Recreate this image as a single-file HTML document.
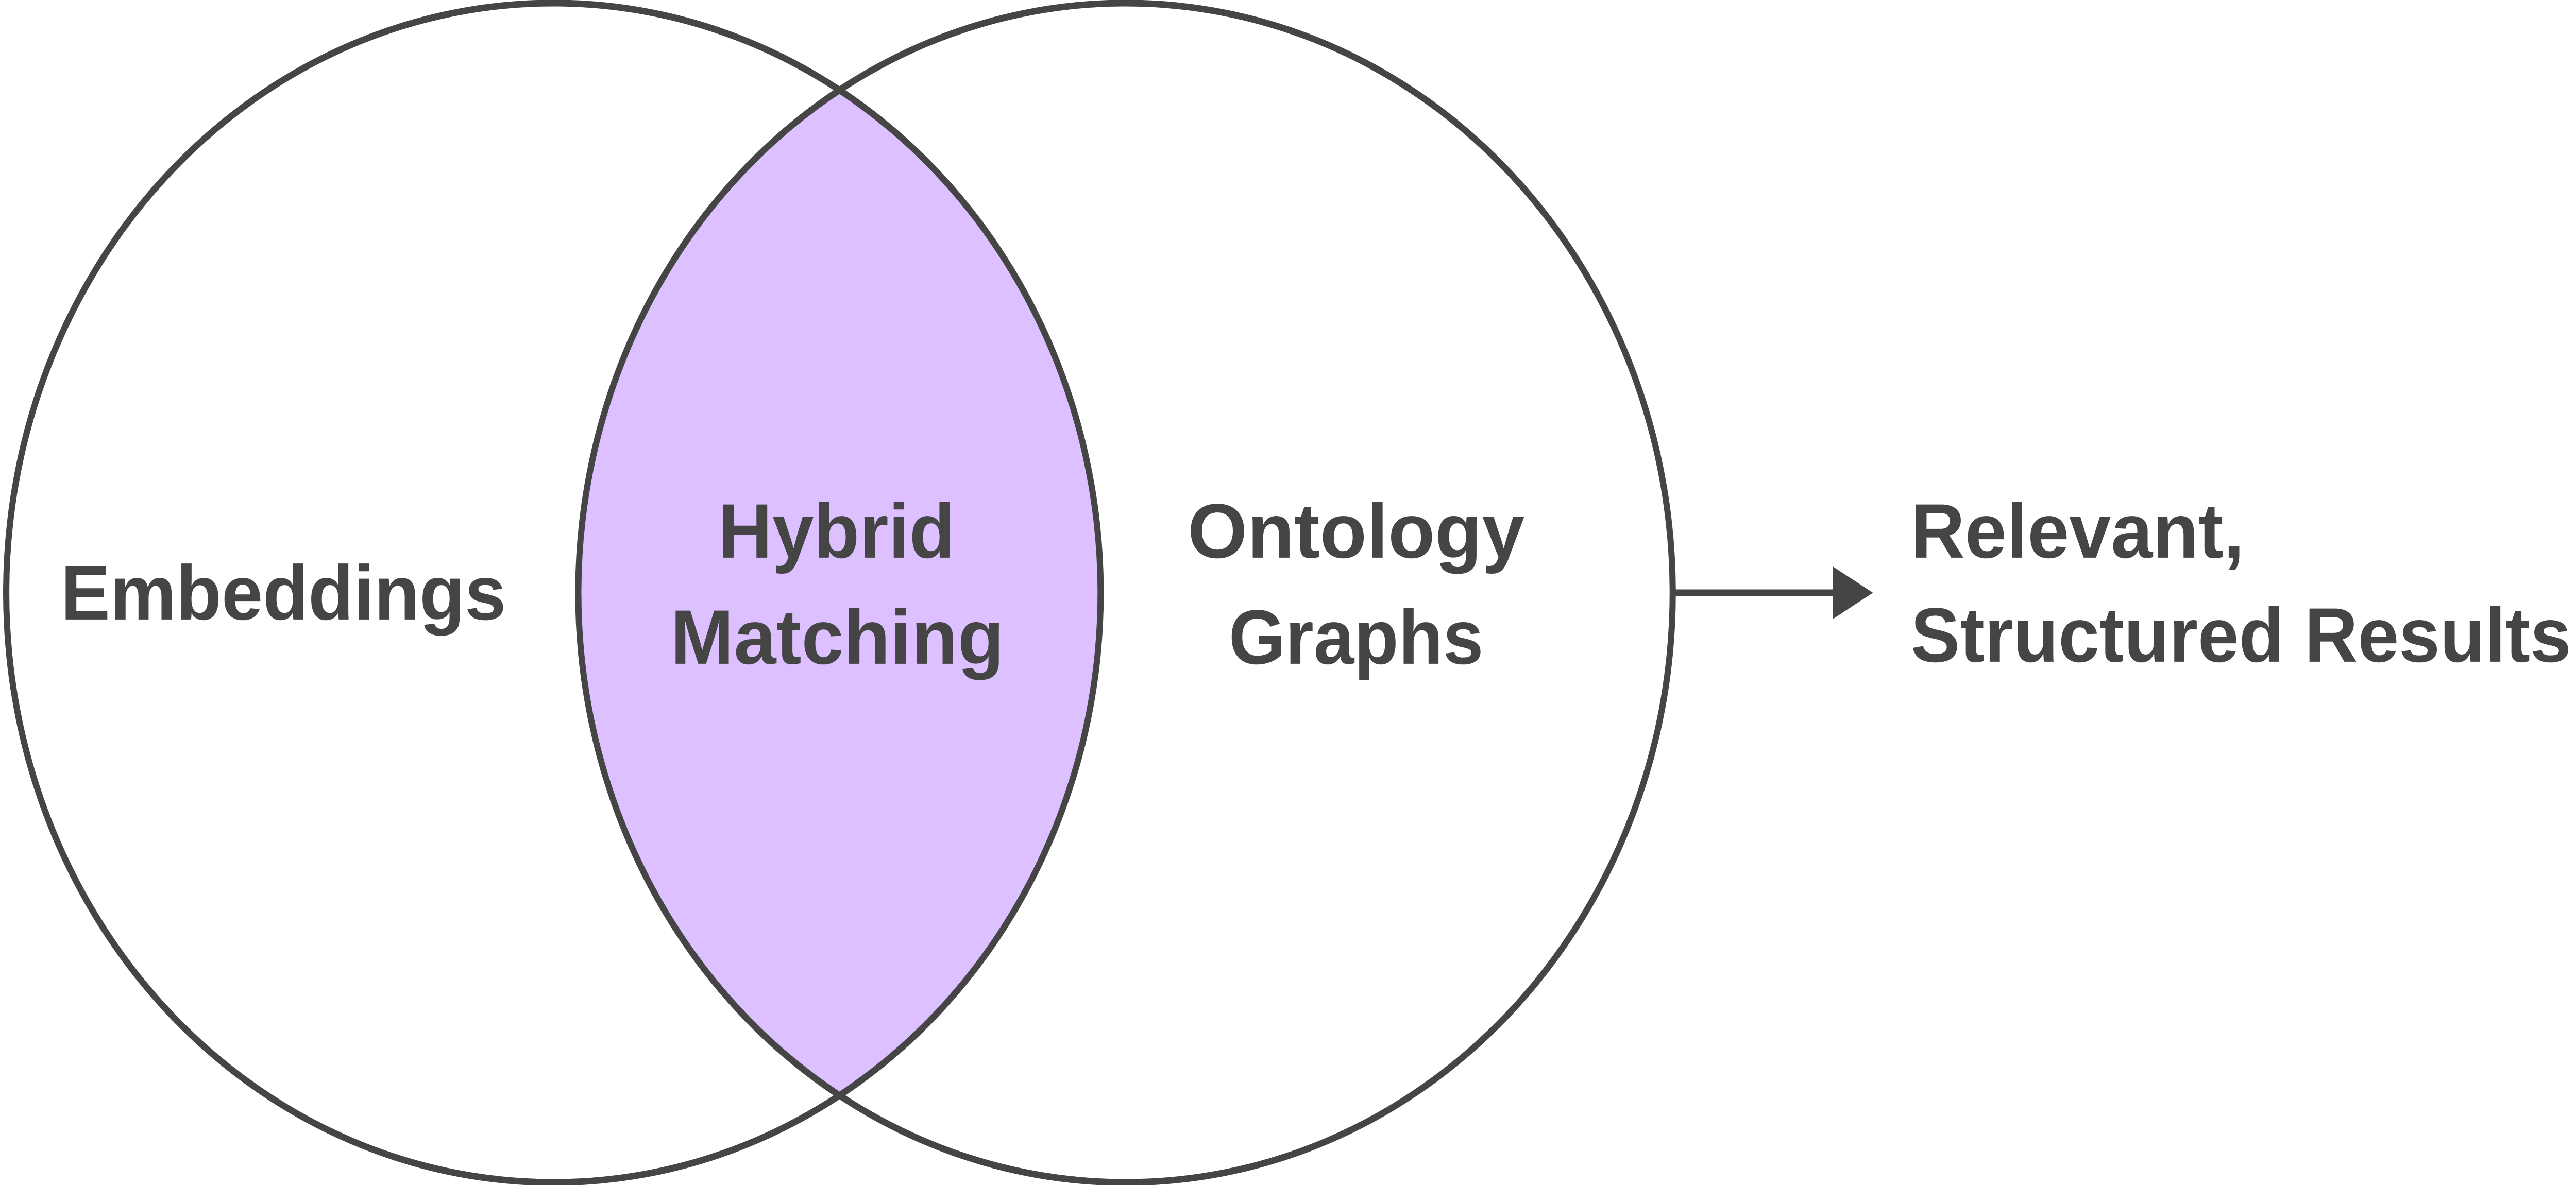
<!DOCTYPE html>
<html><head><meta charset="utf-8"><style>html,body{margin:0;padding:0;background:#fff;overflow:hidden;width:100%;height:100%;}svg{display:block;width:100vw;height:100vh}</style></head>
<body>
<svg viewBox="0 0 5390 2301" preserveAspectRatio="none" xmlns="http://www.w3.org/2000/svg">
<defs><clipPath id="c"><circle cx="1158" cy="1151" r="1145"/></clipPath></defs>
<rect width="5390" height="2301" fill="#fff"/>
<circle cx="2355" cy="1151" r="1145" fill="#dcc0ff" clip-path="url(#c)"/>
<circle cx="1158" cy="1151" r="1145" fill="none" stroke="#454545" stroke-width="13"/>
<circle cx="2355" cy="1151" r="1145" fill="none" stroke="#454545" stroke-width="13"/>
<line x1="3503" y1="1151" x2="3840" y2="1151" stroke="#454545" stroke-width="13"/>
<polygon points="3835,1100 3919,1151 3835,1202" fill="#454545"/>
<g font-family="Liberation Sans, sans-serif" font-weight="bold" font-size="150" fill="#454545" dominant-baseline="central">
<text x="127" y="1151" textLength="932" lengthAdjust="spacingAndGlyphs">Embeddings</text>
<text x="1503" y="1031" textLength="495" lengthAdjust="spacingAndGlyphs">Hybrid</text>
<text x="1403" y="1237" textLength="698" lengthAdjust="spacingAndGlyphs">Matching</text>
<text x="2485" y="1031" textLength="705" lengthAdjust="spacingAndGlyphs">Ontology</text>
<text x="2571" y="1237" textLength="533" lengthAdjust="spacingAndGlyphs">Graphs</text>
<text x="3998" y="1031" textLength="698" lengthAdjust="spacingAndGlyphs">Relevant,</text>
<text x="3998" y="1233" textLength="1382" lengthAdjust="spacingAndGlyphs">Structured Results</text>
</g>
</svg>
</body></html>
